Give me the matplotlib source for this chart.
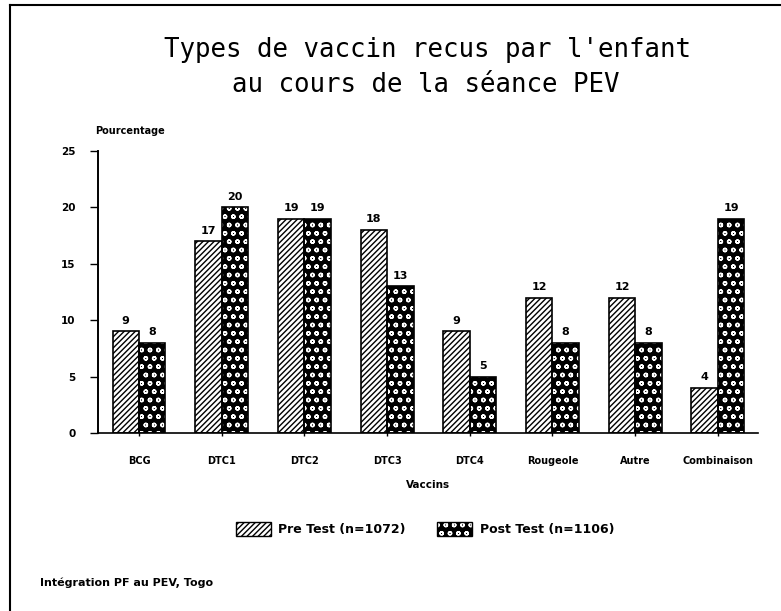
"""
Types de vaccin recus par l'enfant au cours de la seance PEV (Togo)
Grouped bar chart, Pre Test vs Post Test.
"""

import matplotlib
matplotlib.use("Agg")
import matplotlib.pyplot as plt
from matplotlib.lines import Line2D
from matplotlib.patches import Patch
import numpy as np

# --- Data ---
vaccins = ["BCG", "DTC1", "DTC2", "DTC3", "DTC4", "Rougeole", "Autre", "Combinaison"]
pre_test = [9, 17, 19, 18, 9, 12, 12, 4]
post_test = [8, 20, 19, 13, 5, 8, 8, 19]
y_ticks = [0, 5, 10, 15, 20, 25]

label_pre = "Pre Test (n=1072)"
label_post = "Post Test (n=1106)"

W, H = 781, 611


def main() -> None:
    fig = plt.figure(figsize=(W / 100, H / 100), dpi=100)
    fig.patch.set_facecolor("white")

    # axes box in pixels: left 98, right 758, y0 at 433, y25 at 151
    ax = fig.add_axes([98 / W, 1 - 433 / H, (758 - 98) / W, (433 - 151) / H])

    x = np.arange(len(vaccins))
    bw = 0.32

    # pre test: white with black diagonal hatch
    ax.bar(x - bw / 2, pre_test, bw, facecolor="white", edgecolor="black",
           hatch="//////", linewidth=0.0, zorder=2)
    ax.bar(x - bw / 2, pre_test, bw, fill=False, edgecolor="black",
           linewidth=1.2, zorder=3)

    # post test: black with white speckles
    ax.bar(x + bw / 2, post_test, bw, facecolor="black", edgecolor="white",
           hatch="oo", linewidth=0.0, zorder=2)
    ax.bar(x + bw / 2, post_test, bw, fill=False, edgecolor="black",
           linewidth=1.2, zorder=3)

    for i in range(len(vaccins)):
        ax.text(x[i] - bw / 2, pre_test[i] + 0.5, str(pre_test[i]), ha="center",
                va="bottom", fontsize=8, fontweight="bold")
        ax.text(x[i] + bw / 2, post_test[i] + 0.5, str(post_test[i]), ha="center",
                va="bottom", fontsize=8, fontweight="bold")

    ax.set_xlim(-0.496, 7.485)
    ax.set_ylim(0, 25)
    ax.set_yticks(y_ticks)
    ax.set_xticks(x)
    ax.set_xticklabels(vaccins, fontsize=7, fontweight="bold")
    ax.tick_params(axis="x", length=5, width=1, pad=14, direction="inout")
    ax.tick_params(axis="y", length=6, width=1, pad=10, labelsize=7.5)
    for lab in ax.get_yticklabels():
        lab.set_fontweight("bold")

    for side in ["top", "right"]:
        ax.spines[side].set_visible(False)
    ax.spines["left"].set_linewidth(1.4)
    ax.spines["bottom"].set_linewidth(1.2)

    ax.set_xlabel("Vaccins", fontsize=7.5, fontweight="bold", labelpad=10)

    # y axis caption
    fig.text(95 / W, 1 - 131 / H, "Pourcentage", fontsize=7,
             fontweight="bold", ha="left", va="center")

    # title
    fig.text(427 / W, 1 - 50 / H, "Types de vaccin recus par l'enfant",
             fontsize=18.5, family="DejaVu Sans Mono", ha="center", va="center")
    fig.text(426 / W, 1 - 85 / H, "au cours de la séance PEV",
             fontsize=18.5, family="DejaVu Sans Mono", ha="center", va="center")

    # legend: hatched fill + separate black outline, like the bars
    outline = Patch(fill=False, edgecolor="black", linewidth=1.0)
    handles = [
        (Patch(facecolor="white", edgecolor="black", hatch="//////", linewidth=0),
         outline),
        (Patch(facecolor="black", edgecolor="white", hatch="oo", linewidth=0),
         outline),
    ]
    fig.legend(handles, [label_pre, label_post], loc="center",
               bbox_to_anchor=(425 / W, 1 - 529 / H),
               ncol=2, frameon=False, handlelength=2.8,
               handleheight=1.4, columnspacing=2.5, handletextpad=0.6,
               prop={"weight": "bold", "size": 9})

    # footer
    fig.text(40 / W, 1 - 583 / H, "Intégration PF au PEV, Togo", fontsize=8,
             fontweight="bold", ha="left", va="center")

    # frame around the figure (left and top edges visible in the reference)
    fig.add_artist(Line2D([10 / W, 10 / W], [0, 1 - 5 / H], color="black",
                          linewidth=1.5, transform=fig.transFigure))
    fig.add_artist(Line2D([10 / W, 1], [1 - 5 / H, 1 - 5 / H], color="black",
                          linewidth=1.5, transform=fig.transFigure))

    fig.savefig("out.png", dpi=100)
    plt.close(fig)


if __name__ == "__main__":
    main()
